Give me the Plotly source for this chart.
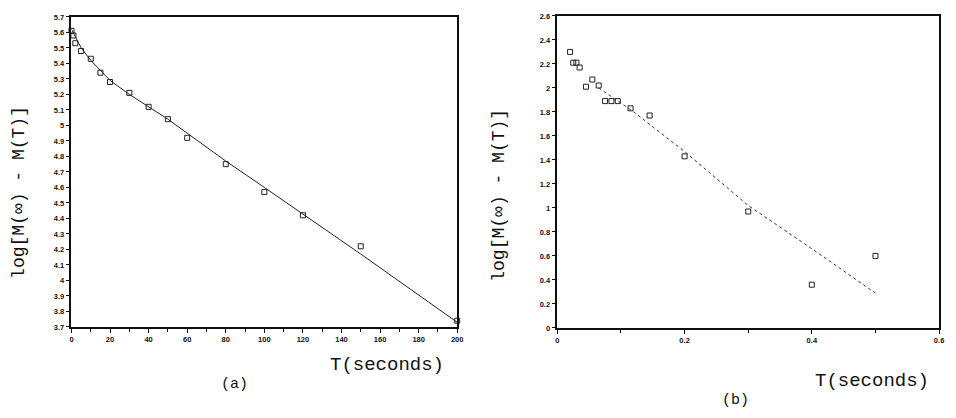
import plotly.graph_objects as go

# Panel (a)
t_a = [0, 1, 2, 5, 10, 15, 20, 30, 40, 50, 60, 80, 100, 120, 150, 200]
y_a = [5.61, 5.58, 5.53, 5.48, 5.43, 5.34, 5.28, 5.21, 5.12, 5.04, 4.92, 4.75, 4.57, 4.42, 4.22, 3.74]
fit_t_a = [0, 5, 10, 20, 30, 40, 50, 60, 80, 100, 120, 150, 200]
fit_y_a = [5.62, 5.5, 5.42, 5.29, 5.2, 5.12, 5.04, 4.95, 4.77, 4.6, 4.43, 4.17, 3.73]

# Panel (b)
t_b = [0.02, 0.025, 0.03, 0.035, 0.045, 0.055, 0.065, 0.075, 0.085, 0.095, 0.115, 0.145, 0.2, 0.3, 0.4, 0.5]
y_b = [2.30, 2.21, 2.21, 2.17, 2.01, 2.07, 2.02, 1.89, 1.89, 1.89, 1.83, 1.77, 1.43, 0.97, 0.36, 0.60]
fit_t_b = [0.065, 0.1, 0.12, 0.2, 0.3, 0.4, 0.5]
fit_y_b = [2.0, 1.87, 1.80, 1.47, 1.02, 0.66, 0.29]

W, H = 948, 410  # page has an 8px body margin


def fx(x):
    return (x - 8) / W


def fy(y):
    return 1 - (y - 8) / H


fig = go.Figure()
mk = dict(symbol="square-open", size=5, color="#222", line=dict(width=1))
fig.add_trace(go.Scatter(x=fit_t_a, y=fit_y_a, mode="lines", line=dict(color="#222", width=1),
                         xaxis="x", yaxis="y", showlegend=False))
fig.add_trace(go.Scatter(x=t_a, y=y_a, mode="markers", marker=mk, xaxis="x", yaxis="y",
                         showlegend=False, cliponaxis=False))
fig.add_trace(go.Scatter(x=fit_t_b, y=fit_y_b, mode="lines", line=dict(color="#333", width=1, dash="dot"),
                         xaxis="x2", yaxis="y2", showlegend=False))
fig.add_trace(go.Scatter(x=t_b, y=y_b, mode="markers", marker=mk, xaxis="x2", yaxis="y2",
                         showlegend=False, cliponaxis=False))

tickfont = dict(family="Liberation Sans", size=7.5, color="#111", weight="bold")
axcommon = dict(showline=True, linecolor="#111", linewidth=1.5, mirror=True, showgrid=False,
                zeroline=False, ticks="outside", ticklen=4, tickcolor="#111", tickfont=tickfont)

fig.update_layout(
    width=W, height=H, margin=dict(l=0, r=0, t=0, b=0),
    paper_bgcolor="white", plot_bgcolor="white",
    xaxis=dict(domain=[fx(70), fx(459)], range=[0, 200], tickvals=list(range(0, 201, 20)),
               minor=dict(dtick=10, ticks="outside", ticklen=3, tickcolor="#111"),
               anchor="y", **axcommon),
    yaxis=dict(domain=[fy(330), fy(13)], range=[3.7, 5.7], dtick=0.1, tick0=3.7,
               anchor="x", **axcommon),
    xaxis2=dict(domain=[fx(560), fx(945)], range=[0, 0.6], tickvals=[0, 0.2, 0.4, 0.6],
                minor=dict(dtick=0.1, ticks="outside", ticklen=3, tickcolor="#111"),
                anchor="y2", **axcommon),
    yaxis2=dict(domain=[fy(331), fy(12)], range=[0, 2.6], dtick=0.2,
                anchor="x2", **axcommon),
)

mono = "Liberation Mono"
ann = [
    dict(text="log[M(∞) - M(T)]", x=17, y=192, textangle=-90, size=18),
    dict(text="log[M(∞) - M(T)]", x=501, y=195, textangle=-90, size=18),
    dict(text="T(seconds)", x=388, y=369, textangle=0, size=19),
    dict(text="(a)", x=234, y=389, textangle=0, size=15),
    dict(text="T(seconds)", x=877, y=385, textangle=0, size=19),
    dict(text="(b)", x=740, y=405, textangle=0, size=15),
]
for a in ann:
    fig.add_annotation(text=a["text"], x=fx(a["x"]), y=fy(a["y"]), xref="paper", yref="paper",
                       showarrow=False, textangle=a["textangle"], xanchor="center", yanchor="middle",
                       font=dict(family=mono, size=a["size"], color="#111"))

fig.write_html("out.html")
